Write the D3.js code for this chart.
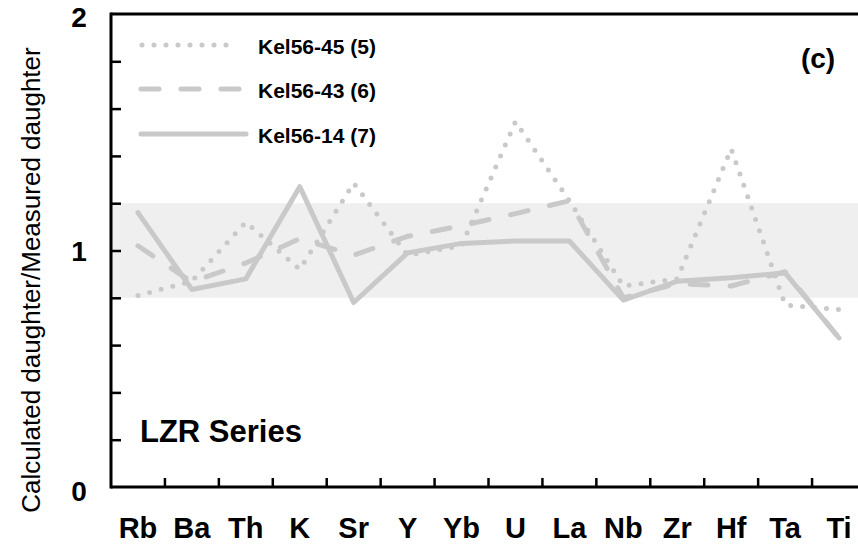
<!DOCTYPE html>
<html>
<head>
<meta charset="utf-8">
<script src="https://cdn.jsdelivr.net/npm/d3@7"></script>
<style>
  html, body { margin: 0; padding: 0; background: #fff; }
  svg { display: block; font-family: "Liberation Sans", Arial, sans-serif; }
</style>
</head>
<body>
<svg id="chart" width="858" height="545"></svg>
<script>
// ---- data ----
const elements = ["Rb","Ba","Th","K","Sr","Y","Yb","U","La","Nb","Zr","Hf","Ta","Ti"];
const kel56_45 = [0.81, 0.87, 1.12, 0.92, 1.285, 0.98, 1.02, 1.545, 1.21, 0.85, 0.88, 1.43, 0.77, 0.75];
const kel56_43 = [1.02, 0.867, 0.947, 1.05, 0.98, 1.06, 1.105, 1.156, 1.21, 0.80, 0.86, 0.85, 0.91, 0.63];
const kel56_14 = [1.16, 0.835, 0.88, 1.27, 0.78, 0.99, 1.03, 1.04, 1.04, 0.79, 0.87, 0.885, 0.905, 0.63];
const seriesNames = ["Kel56-45 (5)", "Kel56-43 (6)", "Kel56-14 (7)"];
const yMajorTicks = [0, 1, 2];
const yMinorTicks = [0.2, 0.4, 0.6, 0.8, 1, 1.2, 1.4, 1.6, 1.8];
const bandRange = [0.8, 1.2];

// ---- layout ----
const svg = d3.select("#chart");
const mLeft = 111, mRight = 866, mTop = 14, mBottom = 487;
const x = d3.scaleBand().domain(elements).range([mLeft, mRight]).padding(0);
const y = d3.scaleLinear().domain([0, 2]).range([mBottom, mTop]);
const cx = d => x(d) + x.bandwidth() / 2;
const lineColor = "#c9c9c9";

// grey band
svg.append("rect")
  .attr("x", mLeft).attr("y", y(bandRange[1]))
  .attr("width", 858 - mLeft).attr("height", y(bandRange[0]) - y(bandRange[1]))
  .attr("fill", "#efefef");

const styles = [
  { data: kel56_45, dash: "0 12", width: 5 },
  { data: kel56_43, dash: "18 22", width: 5 },
  { data: kel56_14, dash: null, width: 5 }
];

const line = d3.line().x((d, i) => cx(elements[i])).y(d => y(d));
styles.forEach(s => {
  svg.append("path")
    .attr("d", line(s.data))
    .attr("fill", "none")
    .attr("stroke", lineColor)
    .attr("stroke-width", s.width)
    .attr("stroke-linecap", "round")
    .attr("stroke-linejoin", "round")
    .attr("stroke-dasharray", s.dash);
});

// axes lines
svg.append("line").attr("x1", mLeft).attr("x2", 858).attr("y1", mTop).attr("y2", mTop)
  .attr("stroke", "#000").attr("stroke-width", 3);
svg.append("line").attr("x1", mLeft).attr("x2", 858).attr("y1", mBottom).attr("y2", mBottom)
  .attr("stroke", "#000").attr("stroke-width", 3);
svg.append("line").attr("x1", mLeft).attr("x2", mLeft).attr("y1", mTop - 1.5).attr("y2", mBottom + 1.5)
  .attr("stroke", "#000").attr("stroke-width", 3);

// y ticks (inward)
const yAxis = d3.axisRight(y).tickValues(yMinorTicks).tickSize(10).tickFormat("");
const gy = svg.append("g").attr("transform", `translate(${mLeft},0)`).call(yAxis);
gy.select(".domain").remove();
gy.selectAll(".tick line").attr("stroke", "#000").attr("stroke-width", 2.5);

// y labels
const yLabOffset = { 0: 4, 1: 0, 2: 3 };
svg.selectAll(".ylab").data(yMajorTicks).enter().append("text")
  .attr("class", "ylab")
  .attr("x", 79).attr("y", d => y(d) + yLabOffset[d])
  .attr("dy", "0.36em")
  .attr("text-anchor", "middle")
  .attr("font-size", 28).attr("font-weight", "bold")
  .text(d => d);

// x ticks between categories (inward)
const xBounds = elements.slice(1).map(d => x(d));
svg.selectAll(".xtick").data(xBounds).enter().append("line")
  .attr("x1", d => d).attr("x2", d => d)
  .attr("y1", mBottom).attr("y2", mBottom - 9)
  .attr("stroke", "#000").attr("stroke-width", 2.5);

// x labels via axis
const xAxis = d3.axisBottom(x).tickSize(0).tickPadding(0);
const gx = svg.append("g").attr("transform", `translate(0,${mBottom})`).call(xAxis);
gx.select(".domain").remove();
gx.selectAll(".tick text")
  .attr("y", 51).attr("dy", 0)
  .attr("font-size", 29).attr("font-weight", "bold")
  .attr("font-family", "'Liberation Sans', Arial, sans-serif")
  .attr("fill", "#000");

// y title
svg.append("text")
  .attr("transform", "translate(40,280) rotate(-90)")
  .attr("text-anchor", "middle")
  .attr("font-size", 26)
  .attr("fill", "#000")
  .text("Calculated daughter/Measured daughter");

// legend
const legY = [45, 89, 134];
styles.forEach((s, i) => {
  svg.append("line")
    .attr("x1", i === 0 ? 142 : 141).attr("x2", i === 0 ? 238 : 246)
    .attr("y1", legY[i]).attr("y2", legY[i])
    .attr("stroke", lineColor).attr("stroke-width", s.width)
    .attr("stroke-linecap", "round")
    .attr("stroke-dasharray", s.dash);
  svg.append("text")
    .attr("x", 258).attr("y", legY[i] + 1)
    .attr("dy", "0.36em")
    .attr("font-size", 21).attr("font-weight", "bold")
    .text(seriesNames[i]);
});

// panel label
svg.append("text").attr("x", 818).attr("y", 58).attr("dy", "0.36em")
  .attr("text-anchor", "middle")
  .attr("font-size", 28).attr("font-weight", "bold").text("(c)");

// series label
svg.append("text").attr("x", 140).attr("y", 442)
  .attr("font-size", 31).attr("font-weight", "bold").text("LZR Series");
</script>
</body>
</html>
